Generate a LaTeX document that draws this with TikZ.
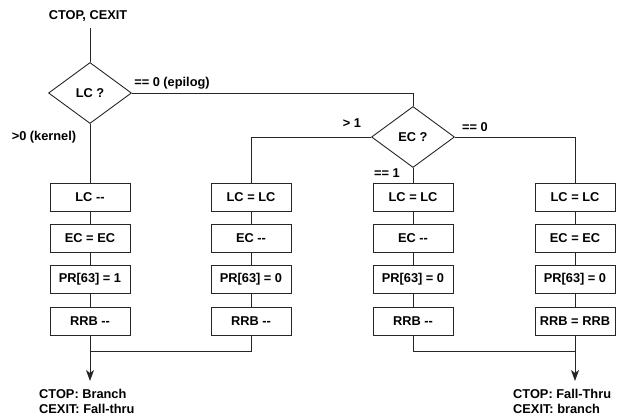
\documentclass[tikz,border=0pt]{standalone}
\usepackage{fontspec}
\setmainfont{Liberation Sans}
\usetikzlibrary{shapes.geometric,arrows.meta}
\newcommand\twohy{-{}-}
\begin{document}
\begin{tikzpicture}[x=1pt,y=-1pt,
  every node/.style={font=\fontsize{12.8}{15}\selectfont\bfseries, inner sep=0pt},
  line/.style={line width=0.9pt, draw=black!85},
  opbox/.style={draw=black!85, line width=0.9pt, minimum width=80pt, minimum height=28pt},
  decision/.style={diamond, draw=black!85, line width=0.9pt, minimum width=83pt, minimum height=61pt},
  arr/.style={line, -{Stealth[length=11pt,width=8pt,inset=3pt]}}]
\useasboundingbox (0,0) rectangle (625,420);
% labels
\node (top) at (88,16) {CTOP, CEXIT};
\node (lepi) at (172,83) {== 0 (epilog)};
\node (lker) at (44,137) {>0 (kernel)};
\node (lgt) at (352,123) {> 1};
\node (leq0) at (475,127) {== 0};
\node (leq1) at (387,173) {== 1};
% decisions
\node[decision] (lc) at (90,93) {LC ?};
\node[decision] (ec) at (413,137) {EC ?};
% boxes
\foreach \c/\x/\a/\b/\p/\r in {1/90/LC \twohy/EC = EC/PR[63] = 1/RRB \twohy,
                                2/251/LC = LC/EC \twohy/PR[63] = 0/RRB \twohy,
                                3/413/LC = LC/EC \twohy/PR[63] = 0/RRB \twohy,
                                4/575/LC = LC/EC = EC/PR[63] = 0/RRB = RRB}{
  \node[opbox] (b\c1) at (\x,197) {\a};
  \node[opbox] (b\c2) at (\x,238) {\b};
  \node[opbox] (b\c3) at (\x,279.5) {\p};
  \node[opbox] (b\c4) at (\x,321) {\r};
  \draw[line] (b\c1) -- (b\c2);
  \draw[line] (b\c2) -- (b\c3);
  \draw[line] (b\c3) -- (b\c4);
}
% outputs
\node[align=left, anchor=north west] (o1) at (39,389) {CTOP: Branch\\CEXIT: Fall-thru};
\node[align=left, anchor=north west] (o2) at (513,389) {CTOP: Fall-Thru\\CEXIT: branch};
\coordinate (m1) at (90,351);
\coordinate (m2) at (575,351);
\coordinate (e1) at (90,381);
\coordinate (e2) at (575,381);
% connectors
\draw[line] (90,28) -- (lc.north);
\draw[line] (lc.east) -| (ec.north);
\draw[line] (lc.south) -- (b11.north);
\draw[line] (ec.west) -| (b21.north);
\draw[line] (ec.east) -| (b41.north);
\draw[line] (ec.south) -- (b31.north);
\draw[line] (b24.south) |- (m1);
\draw[line] (b34.south) |- (m2);
\draw[arr] (b14.south) -- (e1);
\draw[arr] (b44.south) -- (e2);
\end{tikzpicture}
\end{document}
